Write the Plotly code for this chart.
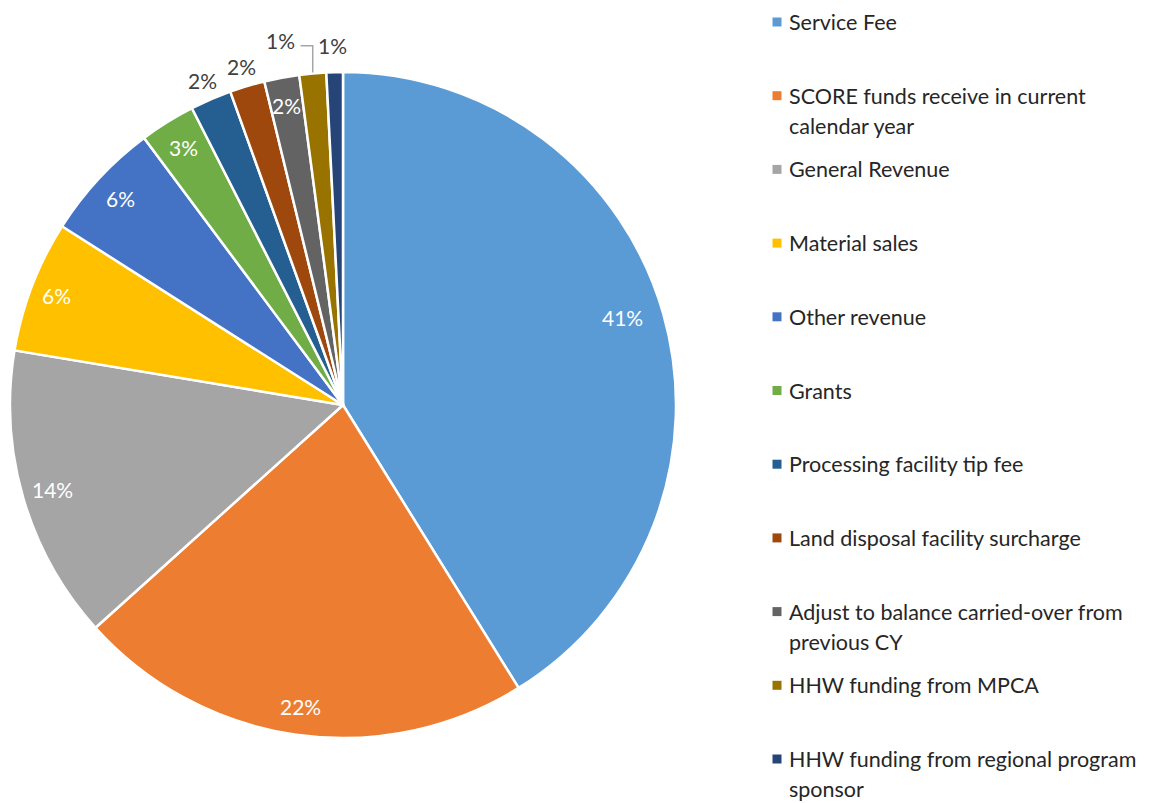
import math
import plotly.graph_objects as go

labels = [
    "Service Fee",
    "SCORE funds receive in current<br>calendar year",
    "General Revenue",
    "Material sales",
    "Other revenue",
    "Grants",
    "Processing facility tip fee",
    "Land disposal facility surcharge",
    "Adjust to balance carried-over from<br>previous CY",
    "HHW funding from MPCA",
    "HHW funding from regional program<br>sponsor",
]
values = [41.2, 22.2, 14.3, 6.4, 5.8, 2.7, 2.0, 1.7, 1.7, 1.3, 0.8]
colors = ["#5B9BD5", "#ED7D31", "#A5A5A5", "#FFC000", "#4472C4", "#70AD47",
          "#255E91", "#9E480E", "#636363", "#997300", "#264478"]

# label placement style (radius as fraction of pie radius, angle shift in degrees)
label_r = [0.88, 0.915, 0.91, 0.92, 0.91, 0.91, 1.06, 1.06, 0.915, 1.11, 1.08]
label_dang = [-1.5, 0, 0, 0, 0, 0, 0, 0, 0, -4.5, -0.2]
label_inside = [True] * 6 + [False, False, True, False, False]
leader = [False] * 9 + [True, False]

W, H = 1144, 795          # page adds an 8px body margin
FONT = "Lato"
CX, CY, R = 335.0, 397.0, 333.0   # pie centre / radius in figure pixels


def px(x):
    return x / W


def py(y):
    return 1 - y / H


fig = go.Figure()
fig.add_trace(go.Pie(
    labels=[l.replace("<br>", " ") for l in labels],
    values=values,
    marker=dict(colors=colors, line=dict(color="white", width=2.5)),
    sort=False,
    direction="clockwise",
    rotation=0,
    textinfo="none",
    automargin=False,
    showlegend=False,
    domain=dict(x=[px(CX - R), px(CX + R)], y=[py(CY + R), py(CY - R)]),
    hoverinfo="label+percent",
))

annotations = []
shapes = []

# percentage labels, positioned from the cumulative values
total = sum(values)
cum = 0.0
for i, v in enumerate(values):
    mid = (cum + v / 2) / total * 360.0
    cum += v
    ang = math.radians(mid + label_dang[i])
    lx = CX + label_r[i] * R * math.sin(ang)
    ly = CY - label_r[i] * R * math.cos(ang)
    pct = f"{round(v / total * 100):d}%"
    annotations.append(dict(
        text=pct, xref="paper", yref="paper", x=px(lx), y=py(ly),
        xanchor="center", yanchor="middle", showarrow=False,
        font=dict(size=21, family=FONT,
                  color="white" if label_inside[i] else "#404040")))
    if leader[i]:
        ma = math.radians(mid)
        ex = CX + R * math.sin(ma)
        ey = CY - R * math.cos(ma)
        shapes.append(dict(
            type="path", xref="paper", yref="paper",
            path=f"M {px(lx + 20)} {py(ly + 5)} L {px(ex)} {py(ly + 5)} L {px(ex)} {py(ey - 1)}",
            line=dict(color="#A6A6A6", width=1.5)))

# manual legend (Excel-style fixed slots)
for i, (lab, col) in enumerate(zip(labels, colors)):
    y0 = 14 + 73.7 * i
    shapes.append(dict(type="rect", xref="paper", yref="paper",
                       xsizemode="pixel", ysizemode="pixel",
                       xanchor=px(769), yanchor=py(y0),
                       x0=-4.5, x1=4.5, y0=-4.5, y1=4.5,
                       fillcolor=col, line=dict(width=0)))
    for j, line in enumerate(lab.split("<br>")):
        annotations.append(dict(text=line, xref="paper", yref="paper",
                                x=px(780), y=py(y0 + 30 * j),
                                xanchor="left", yanchor="middle", showarrow=False,
                                borderpad=0,
                                font=dict(size=21.5, color="#262626", family=FONT)))

fig.update_layout(
    width=W, height=H,
    margin=dict(l=0, r=0, t=0, b=0),
    paper_bgcolor="white", plot_bgcolor="white",
    annotations=annotations, shapes=shapes,
    font=dict(family=FONT),
)
fig.write_html("out.html")
